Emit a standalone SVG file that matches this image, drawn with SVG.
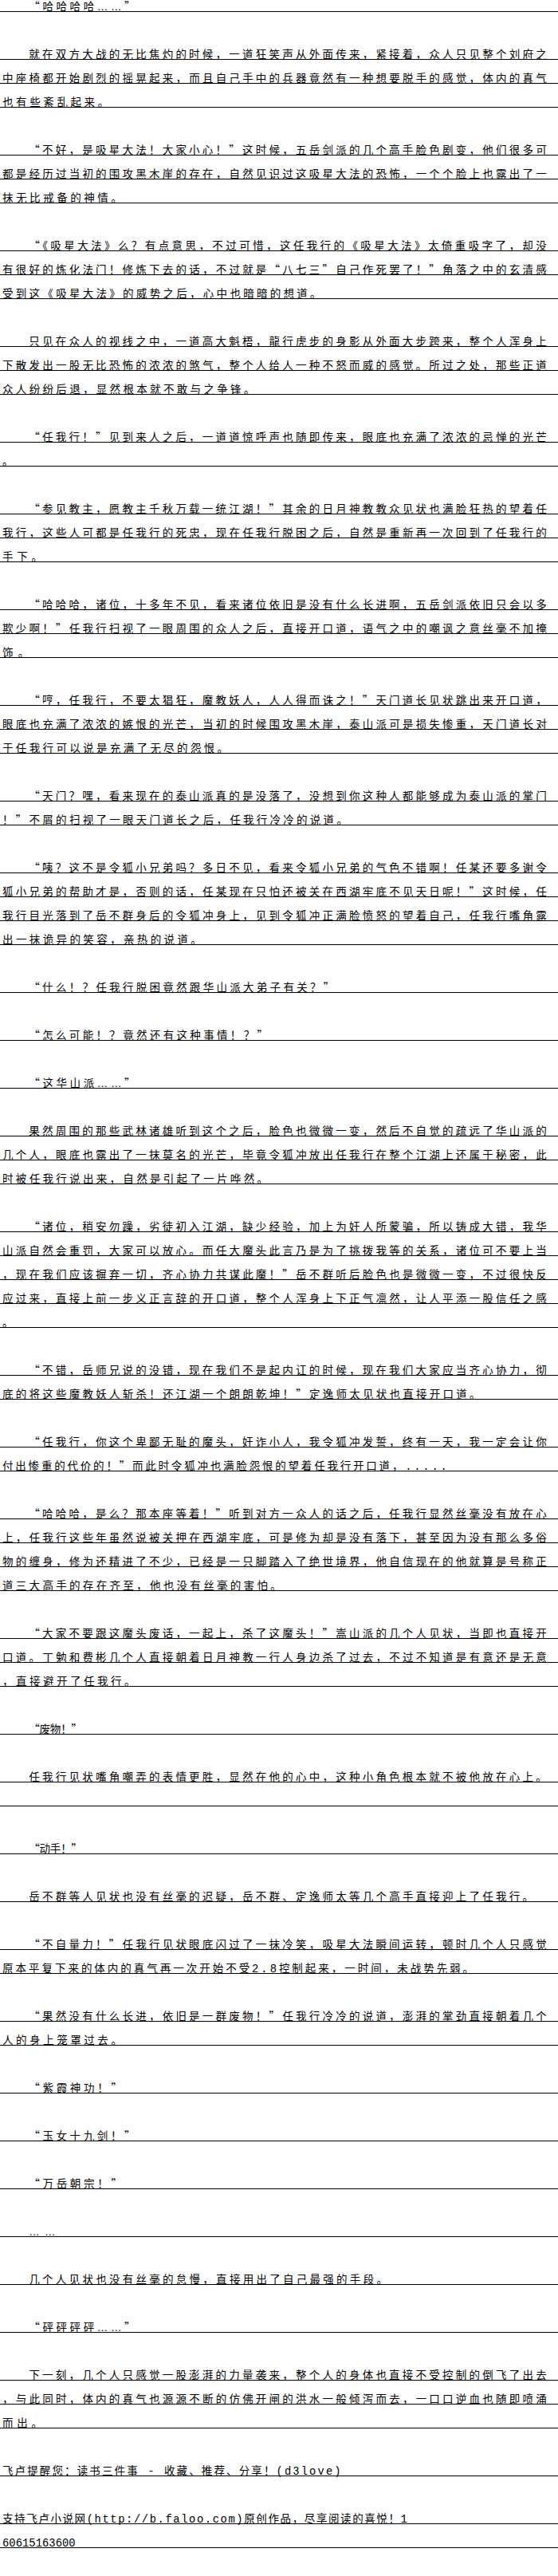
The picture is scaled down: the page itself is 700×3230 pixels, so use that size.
<svg xmlns="http://www.w3.org/2000/svg" width="700" height="3230" viewBox="0 0 700 3230">
<style>
text{font-family:'Noto Sans CJK SC','Noto Sans CJK JP',sans-serif;font-size:13.5px;fill:#000}
.m{font-family:'Liberation Mono',monospace;font-size:13.8px}
.e{font-family:'Liberation Sans',sans-serif;font-size:13.5px}
.rule{stroke:#000;stroke-width:1;fill:none}
</style>
<rect width="700" height="3230" fill="#fff"/>
<g id="rules">
<path class="rule" d="M0 14.5H700M0 74.5H700M0 104.5H700M0 134.5H700M0 194.5H700M0 224.5H700M0 254.5H700M0 314.5H700M0 344.5H700M0 374.5H700M0 434.5H700M0 464.5H700M0 494.5H700M0 554.5H700M0 584.5H700M0 644.5H700M0 674.5H700M0 704.5H700M0 764.5H700M0 794.5H700M0 824.5H700M0 884.5H700M0 914.5H700M0 944.5H700M0 1004.5H700M0 1034.5H700M0 1094.5H700M0 1124.5H700M0 1154.5H700M0 1184.5H700M0 1244.5H700M0 1304.5H700M0 1364.5H700M0 1424.5H700M0 1454.5H700M0 1484.5H700M0 1544.5H700M0 1574.5H700M0 1604.5H700M0 1634.5H700M0 1664.5H700M0 1724.5H700M0 1754.5H700M0 1814.5H700M0 1844.5H700M0 1904.5H700M0 1934.5H700M0 1964.5H700M0 1994.5H700M0 2054.5H700M0 2084.5H700M0 2114.5H700M0 2174.5H700M0 2234.5H700M0 2264.5H700M0 2324.5H700M0 2384.5H700M0 2444.5H700M0 2474.5H700M0 2534.5H700M0 2564.5H700M0 2624.5H700M0 2684.5H700M0 2744.5H700M0 2804.5H700M0 2864.5H700M0 2924.5H700M0 2984.5H700M0 3014.5H700M0 3044.5H700M0 3104.5H700M0 3164.5H700M0 3194.5H700"/>
</g>
<g id="p1"><text x="36.3" y="13" textLength="133.2" lengthAdjust="spacing">“哈哈哈哈<tspan class="e">……</tspan>”</text></g>
<g id="p2">
<text x="36.3" y="73" textLength="649.4" lengthAdjust="spacing">就在双方大战的无比焦灼的时候，一道狂笑声从外面传来，紧接着，众人只见整个刘府之</text>
<text x="3" y="103" textLength="682.7" lengthAdjust="spacing">中座椅都开始剧烈的摇晃起来，而且自己手中的兵器竟然有一种想要脱手的感觉，体内的真气</text>
<text x="3" y="133" textLength="133.2" lengthAdjust="spacing">也有些紊乱起来。</text>
</g>
<g id="p3">
<text x="36.3" y="193" textLength="649.4" lengthAdjust="spacing">“不好，是吸星大法！大家小心！”这时候，五岳剑派的几个高手脸色剧变，他们很多可</text>
<text x="3" y="223" textLength="682.7" lengthAdjust="spacing">都是经历过当初的围攻黑木崖的存在，自然见识过这吸星大法的恐怖，一个个脸上也露出了一</text>
<text x="3" y="253" textLength="149.9" lengthAdjust="spacing">抹无比戒备的神情。</text>
</g>
<g id="p4">
<text x="36.3" y="313" textLength="649.4" lengthAdjust="spacing">“《吸星大法》么？有点意思，不过可惜，这任我行的《吸星大法》太倚重吸字了，却没</text>
<text x="3" y="343" textLength="682.7" lengthAdjust="spacing">有很好的炼化法门！修炼下去的话，不过就是“八七三”自己作死罢了！”角落之中的玄清感</text>
<text x="3" y="373" textLength="399.6" lengthAdjust="spacing">受到这《吸星大法》的威势之后，心中也暗暗的想道。</text>
</g>
<g id="p5">
<text x="36.3" y="433" textLength="649.4" lengthAdjust="spacing">只见在众人的视线之中，一道高大魁梧，龍行虎步的身影从外面大步跨来，整个人浑身上</text>
<text x="3" y="463" textLength="682.7" lengthAdjust="spacing">下散发出一股无比恐怖的浓浓的煞气，整个人给人一种不怒而威的感觉。所过之处，那些正道</text>
<text x="3" y="493" textLength="316.4" lengthAdjust="spacing">众人纷纷后退，显然根本就不敢与之争锋。</text>
</g>
<g id="p6">
<text x="36.3" y="553" textLength="649.4" lengthAdjust="spacing">“任我行！”见到来人之后，一道道惊呼声也随即传来，眼底也充满了浓浓的忌惮的光芒</text>
<text x="3" y="583">。</text>
</g>
<g id="p7">
<text x="36.3" y="643" textLength="649.4" lengthAdjust="spacing">“参见教主，愿教主千秋万载一统江湖！”其余的日月神教教众见状也满脸狂热的望着任</text>
<text x="3" y="673" textLength="682.7" lengthAdjust="spacing">我行，这些人可都是任我行的死忠，现在任我行脱困之后，自然是重新再一次回到了任我行的</text>
<text x="3" y="703" textLength="50" lengthAdjust="spacing">手下。</text>
</g>
<g id="p8">
<text x="36.3" y="763" textLength="649.4" lengthAdjust="spacing">“哈哈哈，诸位，十多年不见，看来诸位依旧是没有什么长进啊，五岳剑派依旧只会以多</text>
<text x="3" y="793" textLength="682.7" lengthAdjust="spacing">欺少啊！”任我行扫视了一眼周围的众人之后，直接开口道，语气之中的嘲讽之意丝毫不加掩</text>
<text x="3" y="823" textLength="33.3" lengthAdjust="spacing">饰。</text>
</g>
<g id="p9">
<text x="36.3" y="883" textLength="649.4" lengthAdjust="spacing">“哼，任我行，不要太猖狂，魔教妖人，人人得而诛之！”天门道长见状跳出来开口道，</text>
<text x="3" y="913" textLength="682.7" lengthAdjust="spacing">眼底也充满了浓浓的嫉恨的光芒，当初的时候围攻黑木崖，泰山派可是损失惨重，天门道长对</text>
<text x="3" y="943" textLength="283.1" lengthAdjust="spacing">于任我行可以说是充满了无尽的怨恨。</text>
</g>
<g id="p10">
<text x="36.3" y="1003" textLength="649.4" lengthAdjust="spacing">“天门？嘿，看来现在的泰山派真的是没落了，没想到你这种人都能够成为泰山派的掌门</text>
<text x="3" y="1033" textLength="432.9" lengthAdjust="spacing">！”不屑的扫视了一眼天门道长之后，任我行冷冷的说道。</text>
</g>
<g id="p11">
<text x="36.3" y="1093" textLength="649.4" lengthAdjust="spacing">“咦？这不是令狐小兄弟吗？多日不见，看来令狐小兄弟的气色不错啊！任某还要多谢令</text>
<text x="3" y="1123" textLength="682.7" lengthAdjust="spacing">狐小兄弟的帮助才是，否则的话，任某现在只怕还被关在西湖牢底不见天日呢！”这时候，任</text>
<text x="3" y="1153" textLength="682.7" lengthAdjust="spacing">我行目光落到了岳不群身后的令狐冲身上，见到令狐冲正满脸愤怒的望着自己，任我行嘴角露</text>
<text x="3" y="1183" textLength="249.8" lengthAdjust="spacing">出一抹诡异的笑容，亲热的说道。</text>
</g>
<g id="p12"><text x="36.3" y="1243" textLength="383" lengthAdjust="spacing">“什么！？任我行脱困竟然跟华山派大弟子有关？”</text></g>
<g id="p13"><text x="36.3" y="1303" textLength="299.7" lengthAdjust="spacing">“怎么可能！？竟然还有这种事情！？”</text></g>
<g id="p14"><text x="36.3" y="1363" textLength="133.2" lengthAdjust="spacing">“这华山派<tspan class="e">……</tspan>”</text></g>
<g id="p15">
<text x="36.3" y="1423" textLength="649.4" lengthAdjust="spacing">果然周围的那些武林诸雄听到这个之后，脸色也微微一变，然后不自觉的疏远了华山派的</text>
<text x="3" y="1453" textLength="682.7" lengthAdjust="spacing">几个人，眼底也露出了一抹莫名的光芒，毕竟令狐冲放出任我行在整个江湖上还属于秘密，此</text>
<text x="3" y="1483" textLength="333" lengthAdjust="spacing">时被任我行说出来，自然是引起了一片哗然。</text>
</g>
<g id="p16">
<text x="36.3" y="1543" textLength="649.4" lengthAdjust="spacing">“诸位，稍安勿躁，劣徒初入江湖，缺少经验，加上为奸人所蒙骗，所以铸成大错，我华</text>
<text x="3" y="1573" textLength="682.7" lengthAdjust="spacing">山派自然会重罚，大家可以放心。而任大魔头此言乃是为了挑拨我等的关系，诸位可不要上当</text>
<text x="3" y="1603" textLength="682.7" lengthAdjust="spacing">，现在我们应该摒弃一切，齐心协力共谋此魔！”岳不群听后脸色也是微微一变，不过很快反</text>
<text x="3" y="1633" textLength="682.7" lengthAdjust="spacing">应过来，直接上前一步义正言辞的开口道，整个人浑身上下正气凛然，让人平添一股信任之感</text>
<text x="3" y="1663">。</text>
</g>
<g id="p17">
<text x="36.3" y="1723" textLength="649.4" lengthAdjust="spacing">“不错，岳师兄说的没错，现在我们不是起内讧的时候，现在我们大家应当齐心协力，彻</text>
<text x="3" y="1753" textLength="599.4" lengthAdjust="spacing">底的将这些魔教妖人斩杀！还江湖一个朗朗乾坤！”定逸师太见状也直接开口道。</text>
</g>
<g id="p18">
<text x="36.3" y="1813" textLength="649.4" lengthAdjust="spacing">“任我行，你这个卑鄙无耻的魔头，奸诈小人，我令狐冲发誓，终有一天，我一定会让你</text>
<text x="3" y="1843" textLength="557.8" lengthAdjust="spacing">付出惨重的代价的！”而此时令狐冲也满脸怨恨的望着任我行开口道，<tspan class="m">.....</tspan></text>
</g>
<g id="p19">
<text x="36.3" y="1903" textLength="649.4" lengthAdjust="spacing">“哈哈哈，是么？那本座等着！”听到对方一众人的话之后，任我行显然丝毫没有放在心</text>
<text x="3" y="1933" textLength="682.7" lengthAdjust="spacing">上，任我行这些年虽然说被关押在西湖牢底，可是修为却是没有落下，甚至因为没有那么多俗</text>
<text x="3" y="1963" textLength="682.7" lengthAdjust="spacing">物的缠身，修为还精进了不少，已经是一只脚踏入了绝世境界，他自信现在的他就算是号称正</text>
<text x="3" y="1993" textLength="349.7" lengthAdjust="spacing">道三大高手的存在齐至，他也没有丝毫的害怕。</text>
</g>
<g id="p20">
<text x="36.3" y="2053" textLength="649.4" lengthAdjust="spacing">“大家不要跟这魔头废话，一起上，杀了这魔头！”嵩山派的几个人见状，当即也直接开</text>
<text x="3" y="2083" textLength="682.7" lengthAdjust="spacing">口道。丁勉和费彬几个人直接朝着日月神教一行人身边杀了过去，不过不知道是有意还是无意</text>
<text x="3" y="2113" textLength="166.5" lengthAdjust="spacing">，直接避开了任我行。</text>
</g>
<g id="p21"><text x="36.3" y="2173" textLength="66.6" lengthAdjust="spacing">“废物！”</text></g>
<g id="p22"><text x="36.3" y="2233" textLength="649.4" lengthAdjust="spacing">任我行见状嘴角嘲弄的表情更胜，显然在他的心中，这种小角色根本就不被他放在心上。</text></g>
<g id="p23"><text x="36.3" y="2323" textLength="66.6" lengthAdjust="spacing">“动手！”</text></g>
<g id="p24"><text x="36.3" y="2383" textLength="632.7" lengthAdjust="spacing">岳不群等人见状也没有丝毫的迟疑，岳不群、定逸师太等几个高手直接迎上了任我行。</text></g>
<g id="p25">
<text x="36.3" y="2443" textLength="649.4" lengthAdjust="spacing">“不自量力！”任我行见状眼底闪过了一抹冷笑，吸星大法瞬间运转，顿时几个人只感觉</text>
<text x="3" y="2473" textLength="591.1" lengthAdjust="spacing">原本平复下来的体内的真气再一次开始不受<tspan class="m">2.8</tspan>控制起来，一时间，未战势先弱。</text>
</g>
<g id="p26">
<text x="36.3" y="2533" textLength="649.4" lengthAdjust="spacing">“果然没有什么长进，依旧是一群废物！”任我行冷冷的说道，澎湃的掌劲直接朝着几个</text>
<text x="3" y="2563" textLength="149.9" lengthAdjust="spacing">人的身上笼罩过去。</text>
</g>
<g id="p27"><text x="36.3" y="2623" textLength="116.6" lengthAdjust="spacing">“紫霞神功！”</text></g>
<g id="p28"><text x="36.3" y="2683" textLength="133.2" lengthAdjust="spacing">“玉女十九剑！”</text></g>
<g id="p29"><text x="36.3" y="2743" textLength="116.6" lengthAdjust="spacing">“万岳朝宗！”</text></g>
<g id="p30"><text x="36.3" y="2803" textLength="33.3" lengthAdjust="spacing"><tspan class="e">……</tspan></text></g>
<g id="p31"><text x="36.3" y="2863" textLength="449.6" lengthAdjust="spacing">几个人见状也没有丝毫的怠慢，直接用出了自己最强的手段。</text></g>
<g id="p32"><text x="36.3" y="2923" textLength="133.2" lengthAdjust="spacing">“砰砰砰砰<tspan class="e">……</tspan>”</text></g>
<g id="p33">
<text x="36.3" y="2983" textLength="649.4" lengthAdjust="spacing">下一刻，几个人只感觉一股澎湃的力量袭来，整个人的身体也直接不受控制的倒飞了出去</text>
<text x="3" y="3013" textLength="682.7" lengthAdjust="spacing">，与此同时，体内的真气也源源不断的仿佛开闸的洪水一般倾泻而去，一口口逆血也随即喷涌</text>
<text x="3" y="3043" textLength="50" lengthAdjust="spacing">而出。</text>
</g>
<g id="footer">
<text x="3" y="3103" textLength="424.6" lengthAdjust="spacing">飞卢提醒您：读书三件事<tspan class="m"> - </tspan>收藏、推荐、分享！<tspan class="m">(d3love)</tspan></text>
<text x="3" y="3163" textLength="507.8" lengthAdjust="spacing">支持飞卢小说网<tspan class="m">(http://b.faloo.com)</tspan>原创作品，尽享阅读的喜悦！<tspan class="m">1</tspan></text>
<text x="3" y="3193" textLength="91.6" lengthAdjust="spacing"><tspan class="m">60615163600</tspan></text>
</g>
</svg>
